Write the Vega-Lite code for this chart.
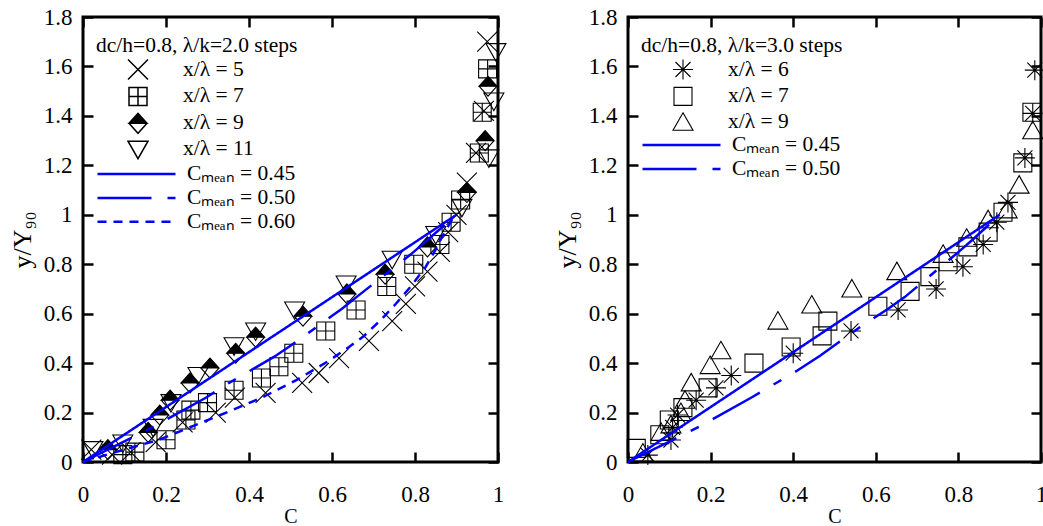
{
  "$schema": "https://vega.github.io/schema/vega-lite/v6.json",
  "padding": {"left": 7, "top": 4, "right": 0, "bottom": 0},
  "background": "white",
  "config": {
    "font": "Liberation Serif",
    "view": {"stroke": "black", "strokeWidth": 3},
    "axis": {
      "grid": false, "domain": false, "labelFlush": false,
      "tickColor": "black", "tickWidth": 2.5, "tickSize": -10,
      "labelFont": "Liberation Serif", "labelFontSize": 23, "labelColor": "black",
      "titleFont": "Liberation Serif", "titleFontSize": 22, "titleFontWeight": "normal", "titleColor": "black"
    },
    "axisX": {"labelPadding": 31, "titlePadding": 0, "titleFontSize": 20},
    "axisY": {"labelPadding": 21, "titlePadding": 8, "titleFontSize": 26},
    "legend": {
      "orient": "top-left", "offset": 13, "padding": 0,
      "titleFont": "Liberation Serif", "titleFontSize": 21.5, "titleFontWeight": "normal", "titleColor": "black", "titleLimit": 500,
      "titleBaseline": "line-top", "titleLineHeight": 31,
      "labelFont": "Liberation Serif", "labelFontSize": 21.5, "labelColor": "black", "labelLimit": 400,
      "rowPadding": 1.9, "titlePadding": 7,
      "layout": {"direction": "vertical", "margin": 2, "top-left": {"direction": "vertical", "margin": 2}}
    }
  },
  "datasets": {
    "pts1": [
      {"s": "x/λ = 5", "C": 0.02, "y": 0.05}, {"s": "x/λ = 5", "C": 0.07, "y": 0.03}, {"s": "x/λ = 5", "C": 0.115, "y": 0.04},
      {"s": "x/λ = 5", "C": 0.175, "y": 0.08}, {"s": "x/λ = 5", "C": 0.24, "y": 0.16}, {"s": "x/λ = 5", "C": 0.32, "y": 0.2},
      {"s": "x/λ = 5", "C": 0.366, "y": 0.26}, {"s": "x/λ = 5", "C": 0.44, "y": 0.28}, {"s": "x/λ = 5", "C": 0.528, "y": 0.32},
      {"s": "x/λ = 5", "C": 0.568, "y": 0.36}, {"s": "x/λ = 5", "C": 0.617, "y": 0.42}, {"s": "x/λ = 5", "C": 0.689, "y": 0.49},
      {"s": "x/λ = 5", "C": 0.745, "y": 0.57}, {"s": "x/λ = 5", "C": 0.778, "y": 0.64}, {"s": "x/λ = 5", "C": 0.8, "y": 0.71},
      {"s": "x/λ = 5", "C": 0.83, "y": 0.77}, {"s": "x/λ = 5", "C": 0.86, "y": 0.85}, {"s": "x/λ = 5", "C": 0.88, "y": 0.93},
      {"s": "x/λ = 5", "C": 0.9, "y": 1.0}, {"s": "x/λ = 5", "C": 0.925, "y": 1.13}, {"s": "x/λ = 5", "C": 0.947, "y": 1.25},
      {"s": "x/λ = 5", "C": 0.966, "y": 1.42}, {"s": "x/λ = 5", "C": 0.974, "y": 1.7},
      {"s": "x/λ = 7", "C": 0.096, "y": 0.03}, {"s": "x/λ = 7", "C": 0.125, "y": 0.04}, {"s": "x/λ = 7", "C": 0.2, "y": 0.09},
      {"s": "x/λ = 7", "C": 0.248, "y": 0.17}, {"s": "x/λ = 7", "C": 0.26, "y": 0.21}, {"s": "x/λ = 7", "C": 0.3, "y": 0.24},
      {"s": "x/λ = 7", "C": 0.364, "y": 0.29}, {"s": "x/λ = 7", "C": 0.43, "y": 0.34}, {"s": "x/λ = 7", "C": 0.472, "y": 0.385},
      {"s": "x/λ = 7", "C": 0.508, "y": 0.44}, {"s": "x/λ = 7", "C": 0.585, "y": 0.53}, {"s": "x/λ = 7", "C": 0.658, "y": 0.615},
      {"s": "x/λ = 7", "C": 0.732, "y": 0.71}, {"s": "x/λ = 7", "C": 0.797, "y": 0.8}, {"s": "x/λ = 7", "C": 0.86, "y": 0.88},
      {"s": "x/λ = 7", "C": 0.887, "y": 0.97}, {"s": "x/λ = 7", "C": 0.91, "y": 1.06}, {"s": "x/λ = 7", "C": 0.955, "y": 1.25},
      {"s": "x/λ = 7", "C": 0.962, "y": 1.415}, {"s": "x/λ = 7", "C": 0.975, "y": 1.59},
      {"s": "x/λ = 9", "C": 0.06, "y": 0.05}, {"s": "x/λ = 9", "C": 0.157, "y": 0.12}, {"s": "x/λ = 9", "C": 0.185, "y": 0.19},
      {"s": "x/λ = 9", "C": 0.21, "y": 0.25}, {"s": "x/λ = 9", "C": 0.258, "y": 0.32}, {"s": "x/λ = 9", "C": 0.306, "y": 0.38},
      {"s": "x/λ = 9", "C": 0.368, "y": 0.44}, {"s": "x/λ = 9", "C": 0.416, "y": 0.505}, {"s": "x/λ = 9", "C": 0.53, "y": 0.59},
      {"s": "x/λ = 9", "C": 0.636, "y": 0.68}, {"s": "x/λ = 9", "C": 0.728, "y": 0.76}, {"s": "x/λ = 9", "C": 0.83, "y": 0.87},
      {"s": "x/λ = 9", "C": 0.925, "y": 1.09}, {"s": "x/λ = 9", "C": 0.969, "y": 1.3}, {"s": "x/λ = 9", "C": 0.976, "y": 1.52},
      {"s": "x/λ = 11", "C": 0.024, "y": 0.05}, {"s": "x/λ = 11", "C": 0.096, "y": 0.077}, {"s": "x/λ = 11", "C": 0.169, "y": 0.14},
      {"s": "x/λ = 11", "C": 0.212, "y": 0.24}, {"s": "x/λ = 11", "C": 0.277, "y": 0.35}, {"s": "x/λ = 11", "C": 0.364, "y": 0.47},
      {"s": "x/λ = 11", "C": 0.416, "y": 0.53}, {"s": "x/λ = 11", "C": 0.51, "y": 0.615}, {"s": "x/λ = 11", "C": 0.634, "y": 0.72},
      {"s": "x/λ = 11", "C": 0.745, "y": 0.82}, {"s": "x/λ = 11", "C": 0.85, "y": 0.92}, {"s": "x/λ = 11", "C": 0.913, "y": 1.03},
      {"s": "x/λ = 11", "C": 0.978, "y": 1.23}, {"s": "x/λ = 11", "C": 0.99, "y": 1.46}, {"s": "x/λ = 11", "C": 0.995, "y": 1.66}
    ],
    "lin1": [
      {"cm": "Cₘₑₐₙ = 0.45", "C": 0, "y": 0}, {"cm": "Cₘₑₐₙ = 0.45", "C": 0.9, "y": 1.0},
      {"cm": "Cₘₑₐₙ = 0.50", "C": 0, "y": 0}, {"cm": "Cₘₑₐₙ = 0.50", "C": 0.15, "y": 0.125}, {"cm": "Cₘₑₐₙ = 0.50", "C": 0.296, "y": 0.26},
      {"cm": "Cₘₑₐₙ = 0.50", "C": 0.352, "y": 0.32}, {"cm": "Cₘₑₐₙ = 0.50", "C": 0.46, "y": 0.425}, {"cm": "Cₘₑₐₙ = 0.50", "C": 0.5, "y": 0.47},
      {"cm": "Cₘₑₐₙ = 0.50", "C": 0.624, "y": 0.62}, {"cm": "Cₘₑₐₙ = 0.50", "C": 0.665, "y": 0.675}, {"cm": "Cₘₑₐₙ = 0.50", "C": 0.79, "y": 0.84},
      {"cm": "Cₘₑₐₙ = 0.50", "C": 0.9, "y": 1.0},
      {"cm": "Cₘₑₐₙ = 0.60", "C": 0, "y": 0}, {"cm": "Cₘₑₐₙ = 0.60", "C": 0.07, "y": 0.036}, {"cm": "Cₘₑₐₙ = 0.60", "C": 0.183, "y": 0.09},
      {"cm": "Cₘₑₐₙ = 0.60", "C": 0.272, "y": 0.15}, {"cm": "Cₘₑₐₙ = 0.60", "C": 0.36, "y": 0.21}, {"cm": "Cₘₑₐₙ = 0.60", "C": 0.43, "y": 0.26},
      {"cm": "Cₘₑₐₙ = 0.60", "C": 0.513, "y": 0.33}, {"cm": "Cₘₑₐₙ = 0.60", "C": 0.593, "y": 0.41}, {"cm": "Cₘₑₐₙ = 0.60", "C": 0.641, "y": 0.465},
      {"cm": "Cₘₑₐₙ = 0.60", "C": 0.677, "y": 0.51}, {"cm": "Cₘₑₐₙ = 0.60", "C": 0.718, "y": 0.575}, {"cm": "Cₘₑₐₙ = 0.60", "C": 0.754, "y": 0.64},
      {"cm": "Cₘₑₐₙ = 0.60", "C": 0.79, "y": 0.71}, {"cm": "Cₘₑₐₙ = 0.60", "C": 0.826, "y": 0.79}, {"cm": "Cₘₑₐₙ = 0.60", "C": 0.85, "y": 0.86},
      {"cm": "Cₘₑₐₙ = 0.60", "C": 0.865, "y": 0.91}, {"cm": "Cₘₑₐₙ = 0.60", "C": 0.889, "y": 0.98}, {"cm": "Cₘₑₐₙ = 0.60", "C": 0.9, "y": 1.0}
    ],
    "pts2": [
      {"t": "x/λ = 6", "C": 0.048, "y": 0.028}, {"t": "x/λ = 6", "C": 0.104, "y": 0.089}, {"t": "x/λ = 6", "C": 0.108, "y": 0.14},
      {"t": "x/λ = 6", "C": 0.12, "y": 0.19}, {"t": "x/λ = 6", "C": 0.165, "y": 0.25}, {"t": "x/λ = 6", "C": 0.213, "y": 0.3},
      {"t": "x/λ = 6", "C": 0.25, "y": 0.35}, {"t": "x/λ = 6", "C": 0.4, "y": 0.44}, {"t": "x/λ = 6", "C": 0.54, "y": 0.53},
      {"t": "x/λ = 6", "C": 0.654, "y": 0.615}, {"t": "x/λ = 6", "C": 0.746, "y": 0.7}, {"t": "x/λ = 6", "C": 0.811, "y": 0.79},
      {"t": "x/λ = 6", "C": 0.86, "y": 0.88}, {"t": "x/λ = 6", "C": 0.893, "y": 0.97}, {"t": "x/λ = 6", "C": 0.92, "y": 1.05},
      {"t": "x/λ = 6", "C": 0.961, "y": 1.23}, {"t": "x/λ = 6", "C": 0.98, "y": 1.41}, {"t": "x/λ = 6", "C": 0.985, "y": 1.585},
      {"t": "x/λ = 7", "C": 0.02, "y": 0.055}, {"t": "x/λ = 7", "C": 0.077, "y": 0.11}, {"t": "x/λ = 7", "C": 0.1, "y": 0.17},
      {"t": "x/λ = 7", "C": 0.133, "y": 0.22}, {"t": "x/λ = 7", "C": 0.194, "y": 0.3}, {"t": "x/λ = 7", "C": 0.305, "y": 0.4},
      {"t": "x/λ = 7", "C": 0.395, "y": 0.465}, {"t": "x/λ = 7", "C": 0.47, "y": 0.51}, {"t": "x/λ = 7", "C": 0.484, "y": 0.57},
      {"t": "x/λ = 7", "C": 0.605, "y": 0.63}, {"t": "x/λ = 7", "C": 0.683, "y": 0.69}, {"t": "x/λ = 7", "C": 0.731, "y": 0.75},
      {"t": "x/λ = 7", "C": 0.775, "y": 0.81}, {"t": "x/λ = 7", "C": 0.823, "y": 0.87}, {"t": "x/λ = 7", "C": 0.872, "y": 0.93},
      {"t": "x/λ = 7", "C": 0.908, "y": 1.01}, {"t": "x/λ = 7", "C": 0.956, "y": 1.21}, {"t": "x/λ = 7", "C": 0.978, "y": 1.415},
      {"t": "x/λ = 9", "C": 0.036, "y": 0.036}, {"t": "x/λ = 9", "C": 0.08, "y": 0.12}, {"t": "x/λ = 9", "C": 0.104, "y": 0.15},
      {"t": "x/λ = 9", "C": 0.128, "y": 0.2}, {"t": "x/λ = 9", "C": 0.138, "y": 0.25}, {"t": "x/λ = 9", "C": 0.153, "y": 0.32},
      {"t": "x/λ = 9", "C": 0.199, "y": 0.39}, {"t": "x/λ = 9", "C": 0.225, "y": 0.45}, {"t": "x/λ = 9", "C": 0.363, "y": 0.57},
      {"t": "x/λ = 9", "C": 0.445, "y": 0.635}, {"t": "x/λ = 9", "C": 0.542, "y": 0.7}, {"t": "x/λ = 9", "C": 0.651, "y": 0.77},
      {"t": "x/λ = 9", "C": 0.763, "y": 0.84}, {"t": "x/λ = 9", "C": 0.82, "y": 0.905}, {"t": "x/λ = 9", "C": 0.872, "y": 0.98},
      {"t": "x/λ = 9", "C": 0.918, "y": 1.02}, {"t": "x/λ = 9", "C": 0.947, "y": 1.12}, {"t": "x/λ = 9", "C": 0.98, "y": 1.34}
    ],
    "lin2": [
      {"dm": "Cₘₑₐₙ = 0.45", "C": 0, "y": 0}, {"dm": "Cₘₑₐₙ = 0.45", "C": 0.9, "y": 1.0},
      {"dm": "Cₘₑₐₙ = 0.50", "C": 0, "y": 0}, {"dm": "Cₘₑₐₙ = 0.50", "C": 0.133, "y": 0.11}, {"dm": "Cₘₑₐₙ = 0.50", "C": 0.175, "y": 0.145},
      {"dm": "Cₘₑₐₙ = 0.50", "C": 0.298, "y": 0.26}, {"dm": "Cₘₑₐₙ = 0.50", "C": 0.339, "y": 0.3}, {"dm": "Cₘₑₐₙ = 0.50", "C": 0.41, "y": 0.37},
      {"dm": "Cₘₑₐₙ = 0.50", "C": 0.465, "y": 0.43}, {"dm": "Cₘₑₐₙ = 0.50", "C": 0.562, "y": 0.546}, {"dm": "Cₘₑₐₙ = 0.50", "C": 0.63, "y": 0.62},
      {"dm": "Cₘₑₐₙ = 0.50", "C": 0.67, "y": 0.667}, {"dm": "Cₘₑₐₙ = 0.50", "C": 0.797, "y": 0.845}, {"dm": "Cₘₑₐₙ = 0.50", "C": 0.835, "y": 0.9},
      {"dm": "Cₘₑₐₙ = 0.50", "C": 0.9, "y": 1.0}
    ]
  },
  "spacing": 42,
  "resolve": {
    "scale": {"shape": "independent", "fill": "independent", "strokeDash": "independent", "strokeWidth": "independent"},
    "legend": {"shape": "independent", "fill": "independent", "strokeDash": "independent", "strokeWidth": "independent"}
  },
  "hconcat": [
    {
      "width": 415, "height": 445,
      "resolve": {"axis": {"x": "independent", "y": "independent"}},
      "layer": [
        {
          "data": {"name": "pts1"},
          "mark": {"type": "point", "stroke": "black", "strokeWidth": 1.1, "opacity": 1, "size": 400},
          "encoding": {
            "x": {"field": "C", "type": "quantitative", "scale": {"domain": [0, 1], "nice": false},
                  "axis": {"values": [0, 0.2, 0.4, 0.6, 0.8, 1], "format": "~g", "title": "C"}},
            "y": {"field": "y", "type": "quantitative", "scale": {"domain": [0, 1.8], "nice": false},
                  "axis": {"values": [0, 0.2, 0.4, 0.6, 0.8, 1, 1.2, 1.4, 1.6, 1.8], "format": "~g", "title": "y/Y₉₀"}},
            "shape": {"field": "s", "type": "nominal",
              "scale": {"domain": ["x/λ = 5", "x/λ = 7", "x/λ = 9", "x/λ = 11"],
                        "range": ["M-1,-1L1,1M-1,1L1,-1", "M-0.9,-0.9H0.9V0.9H-0.9ZM0,-0.9V0.9M-0.9,0H0.9", "M-0.9,0L0,-1L0.9,0ZM-0.9,0L0,1L0.9,0L0,1Z", "M-1,-0.8L1,-0.8L0,0.95Z"]},
              "legend": {"title": "dc/h=0.8, λ/k=2.0 steps", "symbolOffset": 31, "labelOffset": 34, "symbolSize": 400,
                "encode": {"symbols": {"update": {
                  "stroke": {"value": "black"}, "strokeWidth": {"value": 1.1},
                  "fill": {"signal": "datum.value === 'x/λ = 9' ? 'black' : 'transparent'"}}}}}},
            "fill": {"field": "s", "type": "nominal",
              "scale": {"domain": ["x/λ = 5", "x/λ = 7", "x/λ = 9", "x/λ = 11"], "range": ["transparent", "transparent", "black", "transparent"]},
              "legend": null}
          }
        },
        {
          "data": {"name": "lin1"},
          "mark": {"type": "line", "color": "#0000ff"},
          "encoding": {
            "x": {"field": "C", "type": "quantitative", "axis": {"orient": "top", "labels": false, "title": null, "values": [0, 0.2, 0.4, 0.6, 0.8, 1]}},
            "y": {"field": "y", "type": "quantitative", "axis": {"orient": "right", "labels": false, "title": null, "values": [0, 0.2, 0.4, 0.6, 0.8, 1, 1.2, 1.4, 1.6, 1.8]}},
            "strokeDash": {"field": "cm", "type": "nominal",
              "scale": {"domain": ["Cₘₑₐₙ = 0.45", "Cₘₑₐₙ = 0.50", "Cₘₑₐₙ = 0.60"], "range": [[1, 0], [54, 16, 9, 16], [9, 7]]},
              "legend": {"title": null, "symbolSize": 6084, "clipHeight": 20, "labelOffset": 10, "symbolOffset": 0}},
            "strokeWidth": {"field": "cm", "type": "nominal",
              "scale": {"domain": ["Cₘₑₐₙ = 0.45", "Cₘₑₐₙ = 0.50", "Cₘₑₐₙ = 0.60"], "range": [2.5, 2.5, 3.8]},
              "legend": {"title": null, "symbolSize": 6084, "clipHeight": 20, "labelOffset": 10, "symbolOffset": 0}}
          }
        }
      ]
    },
    {
      "width": 413, "height": 445,
      "resolve": {"axis": {"x": "independent", "y": "independent"}},
      "layer": [
        {
          "data": {"name": "pts2"},
          "mark": {"type": "point", "stroke": "black", "strokeWidth": 1.1, "opacity": 1, "size": 400, "fill": "transparent"},
          "encoding": {
            "x": {"field": "C", "type": "quantitative", "scale": {"domain": [0, 1], "nice": false},
                  "axis": {"values": [0, 0.2, 0.4, 0.6, 0.8, 1], "format": "~g", "title": "C"}},
            "y": {"field": "y", "type": "quantitative", "scale": {"domain": [0, 1.8], "nice": false},
                  "axis": {"values": [0, 0.2, 0.4, 0.6, 0.8, 1, 1.2, 1.4, 1.6, 1.8], "format": "~g", "title": "y/Y₉₀"}},
            "shape": {"field": "t", "type": "nominal",
              "scale": {"domain": ["x/λ = 6", "x/λ = 7", "x/λ = 9"],
                        "range": ["M0,-1V1M-1,0H1M-0.75,-0.75L0.75,0.75M-0.75,0.75L0.75,-0.75", "M-0.9,-0.9H0.9V0.9H-0.9Z", "M0,-0.95L1,0.8L-1,0.8Z"]},
              "legend": {"title": "dc/h=0.8, λ/k=3.0 steps", "symbolOffset": 31, "labelOffset": 34, "symbolSize": 400, "symbolStrokeColor": "black", "symbolStrokeWidth": 1.1, "symbolFillColor": "transparent"}}
          }
        },
        {
          "data": {"name": "lin2"},
          "mark": {"type": "line", "color": "#0000ff", "strokeWidth": 2.5},
          "encoding": {
            "x": {"field": "C", "type": "quantitative", "axis": {"orient": "top", "labels": false, "title": null, "values": [0, 0.2, 0.4, 0.6, 0.8, 1]}},
            "y": {"field": "y", "type": "quantitative", "axis": {"orient": "right", "labels": false, "title": null, "values": [0, 0.2, 0.4, 0.6, 0.8, 1, 1.2, 1.4, 1.6, 1.8]}},
            "strokeDash": {"field": "dm", "type": "nominal",
              "scale": {"domain": ["Cₘₑₐₙ = 0.45", "Cₘₑₐₙ = 0.50"], "range": [[1, 0], [54, 16, 9, 16]]},
              "legend": {"title": null, "symbolSize": 6084, "clipHeight": 20, "labelOffset": 10, "symbolOffset": 0, "symbolStrokeWidth": 2.5}}
          }
        }
      ]
    }
  ]
}
